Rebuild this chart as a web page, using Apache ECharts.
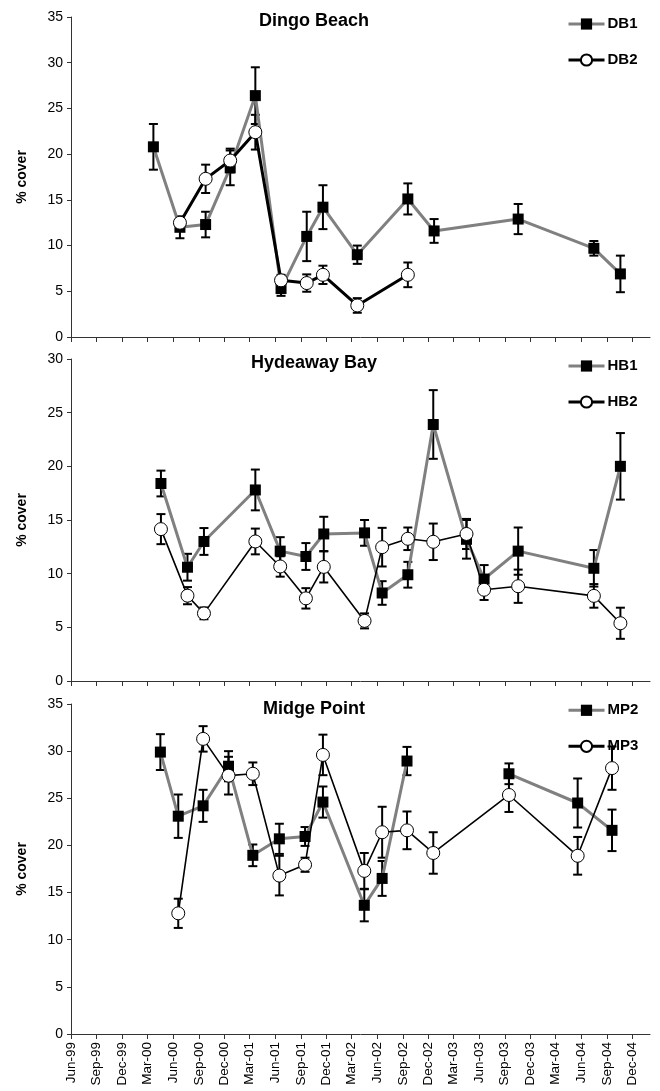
<!DOCTYPE html>
<html>
<head>
<meta charset="utf-8">
<script src="https://cdn.jsdelivr.net/npm/echarts@6/dist/echarts.min.js"></script>
<style>
  html, body { margin: 0; padding: 0; background: #fff; }
  #chart { width: 660px; height: 1091px; }
</style>
</head>
<body>
<div id="chart"></div>
<script>
// Quarterly tick labels along the shared time axis
const tickLabels = ['Jun-99','Sep-99','Dec-99','Mar-00','Jun-00','Sep-00','Dec-00','Mar-01',
  'Jun-01','Sep-01','Dec-01','Mar-02','Jun-02','Sep-02','Dec-02','Mar-03','Jun-03','Sep-03',
  'Dec-03','Mar-04','Jun-04','Sep-04','Dec-04'];

// Dingo Beach survey dates, mean % cover and standard error
const dbDates = ['2000-03-22','2000-06-25','2000-09-25','2000-12-22','2001-03-22','2001-06-22',
  '2001-09-22','2001-11-19','2002-03-22','2002-09-19','2002-12-22','2003-10-19','2004-07-16','2004-10-19'];
const db1    = [20.8, 12.0, 12.3, 18.5, 26.4, 5.3, 11.0, 14.2, 9.0, 15.1, 11.6, 12.9, 9.7, 6.9];
const db1Err = [2.5, 1.2, 1.4, 1.9, 3.1, 0.8, 2.7, 2.4, 1.0, 1.7, 1.3, 1.65, 0.8, 2.0];
const db2    = [null, 12.5, 17.3, 19.3, 22.4, 6.2, 5.9, 6.8, 3.45, 6.8, null, null, null, null];
const db2Err = [null, 0.6, 1.55, 1.3, 1.9, 0.6, 0.95, 1.0, 0.8, 1.35, null, null, null, null];

// Hydeaway Bay
const hbDates = ['2000-04-18','2000-07-22','2000-09-19','2001-03-22','2001-06-19','2001-09-19',
  '2001-11-22','2002-04-17','2002-06-19','2002-09-19','2002-12-19','2003-04-17','2003-06-19',
  '2003-10-19','2004-07-16','2004-10-19'];
const hb1    = [18.4, 10.6, 13.0, 17.8, 12.1, 11.6, 13.7, 13.8, 8.2, 9.9, 23.9, 13.2, 9.5, 12.1, 10.5, 20.0];
const hb1Err = [1.2, 1.25, 1.25, 1.9, 1.3, 1.25, 1.6, 1.2, 1.1, 1.2, 3.2, 1.8, 1.3, 2.2, 1.7, 3.1];
const hb2    = [14.15, 7.95, 6.3, 13.0, 10.67, 7.7, 10.63, 5.6, 12.47, 13.25, 12.97, 13.7, 8.5, 8.83, 7.93, 5.38];
const hb2Err = [1.4, 0.8, 0.55, 1.2, 0.95, 0.95, 1.45, 0.7, 1.8, 1.05, 1.7, 1.4, 0.95, 1.55, 1.1, 1.45];

// Midge Point
const mpDates = ['2000-04-16','2000-06-19','2000-09-16','2000-12-16','2001-03-13','2001-06-16',
  '2001-09-16','2001-11-19','2002-04-16','2002-06-19','2002-09-16','2002-12-19','2003-09-16',
  '2004-05-19','2004-09-19'];
const mp2    = [29.9, 23.1, 24.2, 28.4, 18.95, 20.7, 20.95, 24.6, 13.65, 16.5, 28.95, null, 27.6, 24.5, 21.6];
const mp2Err = [1.9, 2.3, 1.7, 1.6, 1.15, 1.6, 1.0, 1.65, 1.7, 1.85, 1.5, null, 1.1, 2.6, 2.2];
const mp3    = [null, 12.8, 31.3, 27.4, 27.6, 16.8, 17.95, 29.6, 17.3, 21.4, 21.6, 19.2, 25.35, 18.9, 28.2];
const mp3Err = [null, 1.55, 1.35, 2.0, 1.2, 2.1, 0.75, 2.15, 1.9, 2.7, 2.0, 2.2, 1.8, 2.0, 2.3];

const sites = [
  { title: 'Dingo Beach',  names: ['DB1', 'DB2'], dates: dbDates, a: db1, aErr: db1Err, b: db2, bErr: db2Err, yMax: 35 },
  { title: 'Hydeaway Bay', names: ['HB1', 'HB2'], dates: hbDates, a: hb1, aErr: hb1Err, b: hb2, bErr: hb2Err, yMax: 30 },
  { title: 'Midge Point',  names: ['MP2', 'MP3'], dates: mpDates, a: mp2, aErr: mp2Err, b: mp3, bErr: mp3Err, yMax: 35 }
];

// Panel layout (pixels)
const layout = [
  { top: 17,  height: 320, titleTop: 12.5,  legendTop: 16.5,  bWidth: 3 },
  { top: 359, height: 322, titleTop: 354.3, legendTop: 358.5, bWidth: 1.6 },
  { top: 704, height: 330, titleTop: 700.3, legendTop: 702.8, bWidth: 1.6 }
];

const FONT = '"Liberation Sans", Arial, sans-serif';
const MON = { Jan: 0, Feb: 1, Mar: 2, Apr: 3, May: 4, Jun: 5, Jul: 6, Aug: 7, Sep: 8, Oct: 9, Nov: 10, Dec: 11 };
function labelTime(lbl) {
  const [m, y] = lbl.split('-');
  const yy = +y;
  return Date.UTC(yy > 50 ? 1900 + yy : 2000 + yy, MON[m], 1);
}
const tickTimes = tickLabels.map(labelTime);
const xMin = Date.UTC(1999, 5, 1);
const xMax = Date.UTC(2005, 1, 2);

function pts(dates, vals) {
  return dates.map((d, i) => [Date.parse(d), vals[i]]);
}
function errPts(dates, vals, errs) {
  return dates.map((d, i) => [Date.parse(d), vals[i], errs[i]]);
}

// Vertical whisker with caps at mean ± SE
function errorBars(params, api) {
  const v = api.value(1), e = api.value(2);
  if (v == null || e == null || isNaN(v) || isNaN(e)) return null;
  const x = api.value(0);
  const hi = api.coord([x, v + e]);
  const lo = api.coord([x, v - e]);
  const cap = 4.5;
  const style = { stroke: '#000', lineWidth: 2 };
  return {
    type: 'group',
    children: [
      { type: 'line', shape: { x1: hi[0], y1: hi[1], x2: lo[0], y2: lo[1] }, style },
      { type: 'line', shape: { x1: hi[0] - cap, y1: hi[1], x2: hi[0] + cap, y2: hi[1] }, style },
      { type: 'line', shape: { x1: lo[0] - cap, y1: lo[1], x2: lo[0] + cap, y2: lo[1] }, style }
    ]
  };
}

const option = {
  animation: false,
  backgroundColor: '#fff',
  title: [], legend: [], grid: [], xAxis: [], yAxis: [], series: []
};

sites.forEach((s, i) => {
  const L = layout[i];
  const last = i === sites.length - 1;
  option.title.push({
    text: s.title, left: 314, top: L.titleTop, textAlign: 'center', padding: 0,
    textStyle: { fontFamily: FONT, fontSize: 18, fontWeight: 'bold', color: '#000' }
  });
  option.legend.push({
    data: s.names, orient: 'vertical', left: 567, top: L.legendTop, padding: 0,
    itemWidth: 36, itemHeight: 14, itemGap: 21, selectedMode: false,
    lineStyle: { width: 3 },
    textStyle: { fontFamily: FONT, fontSize: 15, fontWeight: 'bold', color: '#000', padding: [0, 0, 0, -2] }
  });
  option.grid.push({ left: 71, width: 579, top: L.top, height: L.height });
  option.xAxis.push({
    type: 'value', gridIndex: i, min: xMin, max: xMax,
    axisLine: { show: true, lineStyle: { color: '#333', width: 1 } },
    axisTick: { show: true, inside: false, length: 5, customValues: tickTimes, lineStyle: { color: '#333' } },
    axisLabel: {
      show: last, customValues: tickTimes, rotate: 90, margin: 8,
      fontFamily: FONT, fontSize: 13.5, color: '#000',
      formatter: v => { const k = tickTimes.indexOf(v); return k >= 0 ? tickLabels[k] : ''; }
    },
    splitLine: { show: false }
  });
  option.yAxis.push({
    type: 'value', gridIndex: i, min: 0, max: s.yMax, interval: 5,
    name: '% cover', nameLocation: 'middle', nameRotate: 90, nameGap: 42,
    nameTextStyle: { fontFamily: FONT, fontSize: 14, fontWeight: 'bold', color: '#000' },
    axisLine: { show: true, lineStyle: { color: '#333', width: 1 } },
    axisTick: { show: true, inside: false, length: 4, lineStyle: { color: '#333' } },
    axisLabel: { fontFamily: FONT, fontSize: 14, color: '#000', margin: 8 },
    splitLine: { show: false }
  });
  option.series.push(
    {
      type: 'custom', name: s.names[0] + ' SE', xAxisIndex: i, yAxisIndex: i, z: 2,
      renderItem: errorBars, data: errPts(s.dates, s.a, s.aErr), silent: true
    },
    {
      type: 'custom', name: s.names[1] + ' SE', xAxisIndex: i, yAxisIndex: i, z: 2,
      renderItem: errorBars, data: errPts(s.dates, s.b, s.bErr), silent: true
    },
    {
      type: 'line', name: s.names[0], xAxisIndex: i, yAxisIndex: i, z: 3,
      data: pts(s.dates, s.a), connectNulls: false,
      symbol: 'rect', symbolSize: 11,
      itemStyle: { color: '#000', borderColor: '#000', borderWidth: 0 },
      lineStyle: { color: '#808080', width: 3 }
    },
    {
      type: 'line', name: s.names[1], xAxisIndex: i, yAxisIndex: i, z: 4,
      data: pts(s.dates, s.b), connectNulls: false,
      symbol: 'circle', symbolSize: 13,
      itemStyle: { color: '#fff', borderColor: '#000', borderWidth: 1 },
      lineStyle: { color: '#000', width: L.bWidth }
    }
  );
});

const chart = echarts.init(document.getElementById('chart'), null, { renderer: 'canvas' });
chart.setOption(option);
</script>
</body>
</html>
